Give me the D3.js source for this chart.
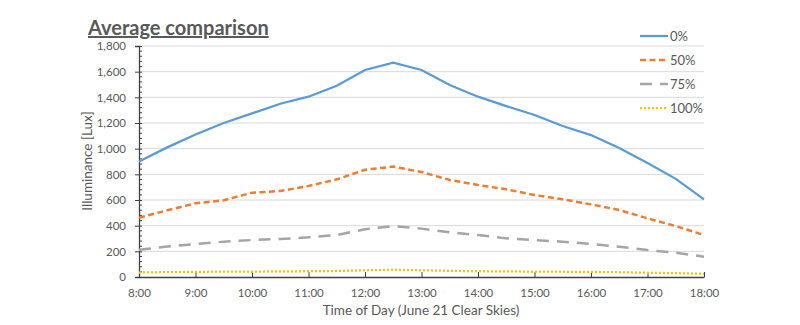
<!DOCTYPE html>
<html>
<head>
<meta charset="utf-8">
<script src="https://cdn.jsdelivr.net/npm/d3@7"></script>
<style>
html,body{margin:0;padding:0;background:#fff;}
svg{display:block;}
text{font-family:Lato,"Open Sans",sans-serif;fill:#595959;}
</style>
</head>
<body>
<svg id="chart" width="800" height="325"></svg>
<script>
const times = ["8:00","8:30","9:00","9:30","10:00","10:30","11:00","11:30","12:00","12:30","13:00","13:30","14:00","14:30","15:00","15:30","16:00","16:30","17:00","17:30","18:00"];
const hourTicks = ["8:00","9:00","10:00","11:00","12:00","13:00","14:00","15:00","16:00","17:00","18:00"];
const yTicks = [0,200,400,600,800,1000,1200,1400,1600,1800];
const seriesNames = ["0%","50%","75%","100%"];
const s0 = [900,1010,1110,1200,1275,1350,1405,1490,1613,1670,1613,1496,1405,1332,1262,1177,1106,1005,888,765,605];
const s50 = [462,520,574,598,657,670,709,761,836,860,818,756,717,683,639,605,566,522,457,397,327];
const s75 = [212,238,257,275,288,296,309,327,372,397,377,348,327,301,288,275,258,236,210,189,158];
const s100 = [35,38,40,42,42,44,45,47,52,57,52,48,45,44,42,41,40,37,33,30,25];
const seriesValues = [s0,s50,s75,s100];
const colors = ["#5b9bd5","#ed7d31","#a5a5a5","#ffc000"];
const dashes = [null,"6,3.5","12,8","2,2"];
const widths = [2.25,2.5,2.5,2.25];

function toHours(t){const [h,m]=t.split(":").map(Number);return h+m/60;}

const svg = d3.select("#chart");
const pL=139,pR=704,pT=46,pB=277;
const x = d3.scaleLinear().domain([8,18]).range([pL,pR]);
const y = d3.scaleLinear().domain([0,1800]).range([pB,pT]);

// gridlines
svg.append("g").selectAll("line").data(yTicks.filter(d=>d>0)).join("line")
  .attr("x1",pL).attr("x2",pR)
  .attr("y1",d=>y(d)).attr("y2",d=>y(d))
  .attr("stroke","#d9d9d9").attr("stroke-width",1);

// y axis
const yAxis = d3.axisLeft(y).tickValues(yTicks).tickFormat(d3.format(",")).tickSize(4).tickPadding(9);
const gy = svg.append("g").attr("transform",`translate(${pL},0)`).call(yAxis);
gy.select(".domain").attr("stroke","#404040").attr("stroke-width",1.3);
gy.selectAll(".tick line").attr("stroke","#404040").attr("x1",3).attr("x2",-4);
gy.selectAll(".tick text").style("font-size","11.5px").attr("fill","#595959");
// minor ticks
const minor = d3.range(0,1801,40).filter(v=>v%200!==0);
svg.append("g").selectAll("line").data(minor).join("line")
  .attr("x1",pL).attr("x2",pL+3)
  .attr("y1",d=>y(d)).attr("y2",d=>y(d))
  .attr("stroke","#404040").attr("stroke-width",1);

// x axis
const xAxis = d3.axisBottom(x).tickValues(hourTicks.map(toHours)).tickFormat((d,i)=>hourTicks[i]).tickSize(0).tickPadding(12);
const gx = svg.append("g").attr("transform",`translate(0,${pB})`).call(xAxis);
gx.select(".domain").attr("stroke","#404040").attr("stroke-width",1.3);
gx.selectAll(".tick line").attr("stroke","#404040").attr("y2",-5);
gx.selectAll(".tick text").style("font-size","11.5px").attr("fill","#595959");

// lines
const line = d3.line().x((d,i)=>x(toHours(times[i]))).y(d=>y(d));
seriesValues.forEach((vals,k)=>{
  svg.append("path").datum(vals)
    .attr("d",line).attr("fill","none")
    .attr("stroke",colors[k]).attr("stroke-width",widths[k])
    .attr("stroke-dasharray",dashes[k]);
});

// title
svg.append("text").attr("x",88).attr("y",35).text("Average comparison")
  .style("font-size","20px").style("font-weight","bold").style("text-decoration","underline").attr("fill","#595959");

// axis labels
svg.append("text").attr("transform",`translate(92,161) rotate(-90)`).attr("text-anchor","middle")
  .style("font-size","13.5px").text("Illuminance [Lux]");
svg.append("text").attr("x",421).attr("y",315).attr("text-anchor","middle")
  .style("font-size","13.5px").text("Time of Day (June 21 Clear Skies)");

// legend
const legY = [36,60,84,108];
const lg = svg.append("g");
seriesNames.forEach((n,k)=>{
  lg.append("line").attr("x1",640).attr("x2",668).attr("y1",legY[k]).attr("y2",legY[k])
    .attr("stroke",colors[k]).attr("stroke-width",widths[k]).attr("stroke-dasharray",dashes[k]);
  lg.append("text").attr("x",670).attr("y",legY[k]+4.5).style("font-size","13px").text(n);
});
</script>
</body>
</html>
